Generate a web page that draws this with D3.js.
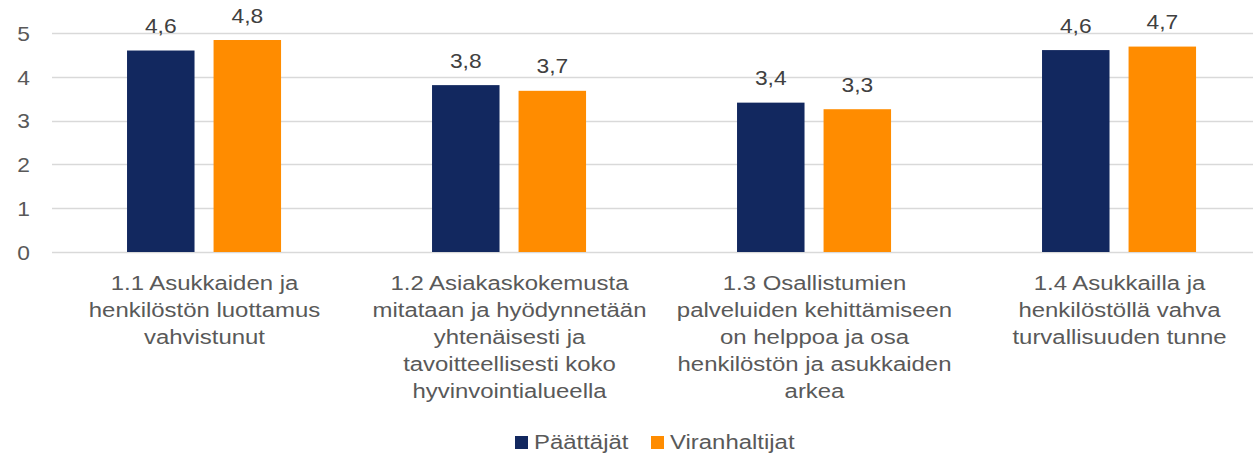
<!DOCTYPE html>
<html>
<head>
<meta charset="utf-8">
<script src="https://cdn.jsdelivr.net/npm/d3@7/dist/d3.min.js"></script>
<style>
  html, body { margin: 0; padding: 0; background: #fff; }
  svg { display: block; font-family: "Liberation Sans", Arial, sans-serif; }
</style>
</head>
<body>
<svg id="chart" width="1253" height="458"></svg>
<script>
const categories = [
  ["1.1 Asukkaiden ja", "henkilöstön luottamus", "vahvistunut"],
  ["1.2 Asiakaskokemusta", "mitataan ja hyödynnetään", "yhtenäisesti ja", "tavoitteellisesti koko", "hyvinvointialueella"],
  ["1.3 Osallistumien", "palveluiden kehittämiseen", "on helppoa ja osa", "henkilöstön ja asukkaiden", "arkea"],
  ["1.4 Asukkailla ja", "henkilöstöllä vahva", "turvallisuuden tunne"]
];
const seriesNames = ["Päättäjät", "Viranhaltijat"];
const paattajat = [4.60, 3.81, 3.41, 4.61];
const viranhaltijat = [4.84, 3.68, 3.26, 4.69];
const yTicks = [0, 1, 2, 3, 4, 5];
const colors = ["#12285F", "#FF8C00"];

const SX = 1.14; // horizontal stretch of the reference text
const textColor = "#595959";
const svg = d3.select("#chart");

const x0 = d3.scaleBand().domain(d3.range(categories.length)).range([52, 1272]).padding(0);
const bw = x0.bandwidth();
const x1 = d3.scaleBand().domain(seriesNames).range([bw * 0.246, bw * 0.751]).paddingInner(0.22).paddingOuter(0);
const y = d3.scaleLinear().domain([0, 5]).range([252, 33]);

// gridlines
svg.append("g").selectAll("line").data(yTicks).join("line")
  .attr("x1", 52).attr("x2", 1253)
  .attr("y1", d => Math.round(y(d)) + 0.5).attr("y2", d => Math.round(y(d)) + 0.5)
  .attr("stroke", "#D9D9D9").attr("stroke-width", 1.5);

// y axis via d3.axisLeft
const yAxis = svg.append("g").attr("transform", "translate(52,0)")
  .call(d3.axisLeft(y).tickValues(yTicks).tickFormat(d3.format("d")).tickSize(0).tickPadding(0));
yAxis.select(".domain").remove();
yAxis.selectAll("text")
  .attr("x", 0).attr("dy", "0.36em")
  .attr("transform", `translate(-22,0) scale(${SX},1)`)
  .attr("fill", textColor).style("font-size", "20px")
  .style("font-family", '"Liberation Sans", Arial, sans-serif');

// bars
const data = categories.map((c, i) => ({ i, vals: [paattajat[i], viranhaltijat[i]] }));
const groups = svg.append("g").selectAll("g").data(data).join("g")
  .attr("transform", d => `translate(${x0(d.i)},0)`);

groups.selectAll("rect").data(d => d.vals.map((v, k) => ({ v, k }))).join("rect")
  .attr("x", d => x1(seriesNames[d.k]))
  .attr("width", x1.bandwidth())
  .attr("y", d => y(d.v))
  .attr("height", d => y(0) - y(d.v))
  .attr("fill", d => colors[d.k]);

const fmt = v => d3.format(".1f")(v).replace(".", ",");
groups.selectAll("text.val").data(d => d.vals.map((v, k) => ({ v, k }))).join("text")
  .attr("class", "val")
  .attr("text-anchor", "middle")
  .attr("transform", d => `translate(${x1(seriesNames[d.k]) + x1.bandwidth() / 2},${y(d.v) - 17.5}) scale(${SX},1)`)
  .attr("fill", "#404040").style("font-size", "20px")
  .text(d => fmt(d.v));

// category labels
const catG = svg.append("g").selectAll("g").data(categories).join("g")
  .attr("transform", (d, i) => `translate(${x0(i) + bw / 2},0)`);
catG.selectAll("text").data(d => d).join("text")
  .attr("text-anchor", "middle")
  .attr("transform", (d, j) => `translate(0,${290 + j * 27}) scale(${SX},1)`)
  .attr("fill", textColor).style("font-size", "21px")
  .text(d => d);

// legend
const legendX = [515, 651];
const lg = svg.append("g").selectAll("g").data(seriesNames).join("g")
  .attr("transform", (d, i) => `translate(${legendX[i]},0)`);
lg.append("rect").attr("x", 0).attr("y", 436).attr("width", 13).attr("height", 13)
  .attr("fill", (d, i) => colors[i]);
lg.append("text")
  .attr("transform", `translate(19,449) scale(${SX},1)`)
  .attr("fill", textColor).style("font-size", "21px")
  .text(d => d);
</script>
</body>
</html>
